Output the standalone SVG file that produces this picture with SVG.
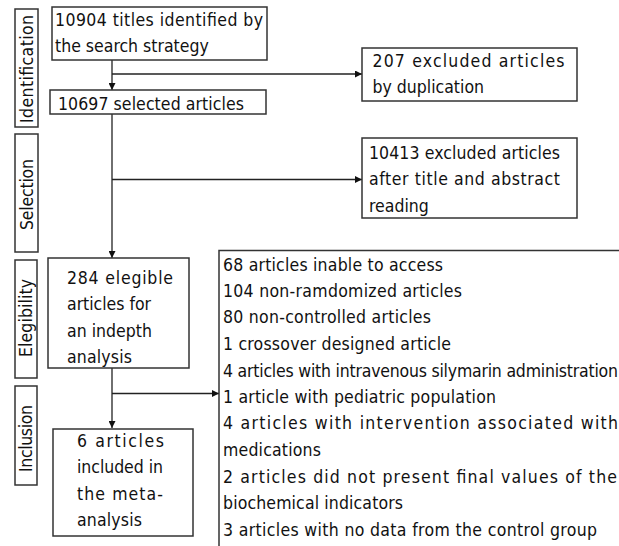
<svg xmlns="http://www.w3.org/2000/svg" width="619" height="546" viewBox="0 0 619 546">
<defs>
<marker id="arr" viewBox="0 0 10 10" refX="10" refY="5" markerWidth="8" markerHeight="7" markerUnits="userSpaceOnUse" orient="auto">
<path d="M0,0 L10,5 L0,10 z" fill="#111"/>
</marker>
<style>
.box{fill:#fff;stroke:#333;stroke-width:1.5}
.side{fill:#fff;stroke:#333;stroke-width:1.5}
.t{font-family:"DejaVu Sans Condensed","DejaVu Sans",Verdana,sans-serif;font-size:17.5px;fill:#111}
.s{font-family:"DejaVu Sans Condensed","DejaVu Sans",Verdana,sans-serif;font-size:17.5px;fill:#111;text-anchor:middle}
.c{fill:none;stroke:#222;stroke-width:1.3}
</style>
</defs>
<rect width="619" height="546" fill="#fff"/>

<g id="stage-identification">
<rect class="side" x="15" y="9" width="23" height="118"/>
<text class="s" transform="translate(33,69) rotate(-90)" textLength="108">Identification</text>
</g>
<g id="stage-selection">
<rect class="side" x="15" y="134" width="23" height="118"/>
<text class="s" transform="translate(33,194.5) rotate(-90)" textLength="71">Selection</text>
</g>
<g id="stage-elegibility">
<rect class="side" x="15" y="260" width="22" height="118"/>
<text class="s" transform="translate(32,318) rotate(-90)" textLength="78">Elegibility</text>
</g>
<g id="stage-inclusion">
<rect class="side" x="15" y="386" width="22" height="99"/>
<text class="s" transform="translate(32,438.5) rotate(-90)" textLength="67">Inclusion</text>
</g>

<g id="connectors">
<line class="c" x1="112" y1="60" x2="112" y2="90" marker-end="url(#arr)"/>
<line class="c" x1="112" y1="74" x2="362" y2="74" marker-end="url(#arr)"/>
<line class="c" x1="112" y1="114" x2="112" y2="258" marker-end="url(#arr)"/>
<line class="c" x1="112" y1="179.5" x2="362" y2="179.5" marker-end="url(#arr)"/>
<line class="c" x1="112" y1="368" x2="112" y2="428" marker-end="url(#arr)"/>
<line class="c" x1="112" y1="393.5" x2="219" y2="393.5" marker-end="url(#arr)"/>
</g>

<g id="n-identified">
<rect class="box" x="52" y="7" width="215" height="53"/>
<text class="t" x="55" y="26" textLength="208">10904 titles identified by</text>
<text class="t" x="55" y="52">the search strategy</text>
</g>

<g id="n-selected">
<rect class="box" x="50" y="90" width="216" height="24"/>
<text class="t" x="58" y="110" textLength="186">10697 selected articles</text>
</g>

<g id="n-duplication">
<rect class="box" x="362" y="48" width="215" height="53"/>
<text class="t" x="372.5" y="67" textLength="192">207 excluded articles</text>
<text class="t" x="372.5" y="93">by duplication</text>
</g>

<g id="n-title-abstract">
<rect class="box" x="362" y="138" width="215" height="80"/>
<text class="t" x="369" y="159" textLength="191">10413 excluded articles</text>
<text class="t" x="369" y="185" textLength="191">after title and abstract</text>
<text class="t" x="369" y="211.5">reading</text>
</g>

<g id="n-elegible">
<rect class="box" x="48" y="258" width="141" height="110"/>
<text class="t" x="67" y="284" textLength="106">284 elegible</text>
<text class="t" x="67" y="310" textLength="84">articles for</text>
<text class="t" x="67" y="336.5" textLength="85">an indepth</text>
<text class="t" x="67" y="363" textLength="65">analysis</text>
</g>

<g id="n-included">
<rect class="box" x="53" y="429" width="140" height="107"/>
<text class="t" x="77" y="447" textLength="87">6 articles</text>
<text class="t" x="77" y="473" textLength="86">included in</text>
<text class="t" x="77" y="499.5" textLength="86">the meta-</text>
<text class="t" x="77" y="526" textLength="65">analysis</text>
</g>

<g id="n-excluded-reasons">
<path class="c" d="M619,250.5 L219,250.5 L219,546" style="stroke:#333;stroke-width:1.5"/>
<text class="t" x="223" y="270.7" textLength="220">68 articles inable to access</text>
<text class="t" x="223" y="296.7" textLength="239">104 non-ramdomized articles</text>
<text class="t" x="223" y="323.3" textLength="208">80 non-controlled articles</text>
<text class="t" x="223" y="350" textLength="228">1 crossover designed article</text>
<text class="t" x="223" y="376.7" textLength="395">4 articles with intravenous silymarin administration</text>
<text class="t" x="223" y="403.3" textLength="273">1 article with pediatric population</text>
<text class="t" x="223" y="429.3" textLength="395">4 articles with intervention associated with</text>
<text class="t" x="223" y="456" textLength="98">medications</text>
<text class="t" x="223" y="482.7" textLength="394">2 articles did not present final values of the</text>
<text class="t" x="223" y="509" textLength="180">biochemical indicators</text>
<text class="t" x="223" y="535.7" textLength="374">3 articles with no data from the control group</text>
</g>
</svg>
